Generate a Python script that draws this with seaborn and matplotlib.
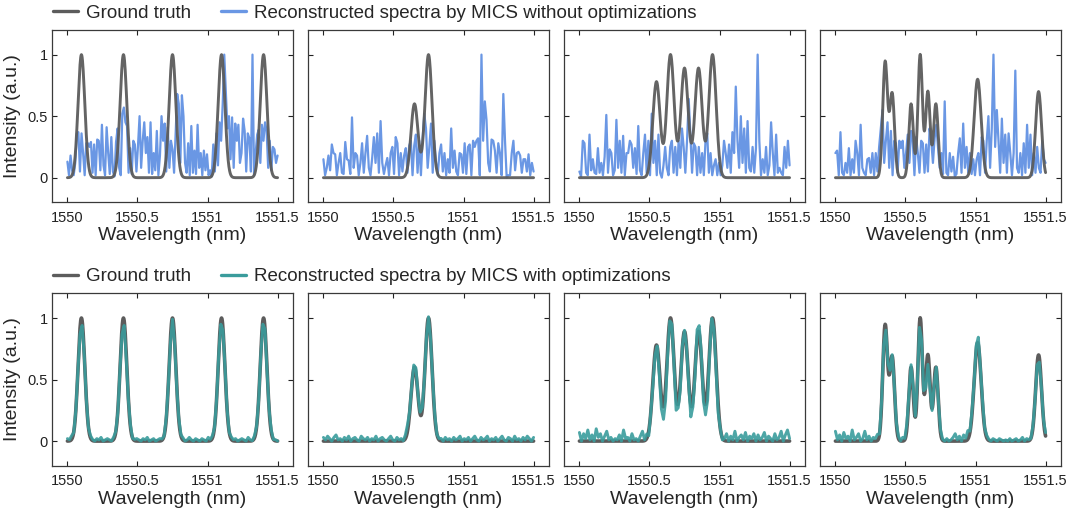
import numpy as np
import matplotlib
matplotlib.use("Agg")
from matplotlib import pyplot as plt
from matplotlib.lines import Line2D
import seaborn as sns

# ground-truth peaks per panel (centre nm, height, width nm)
gt_centers = [
    [1550.10, 1550.40, 1550.75, 1551.10, 1551.40],
    [1550.65, 1550.75],
    [1550.55, 1550.65, 1550.75, 1550.85, 1550.95],
    [1550.355, 1550.405, 1550.54, 1550.605, 1550.66, 1550.717, 1551.015, 1551.45],
]
gt_heights = [
    [1.0, 1.0, 1.0, 1.0, 1.0],
    [0.60, 1.0],
    [0.78, 1.0, 0.89, 0.89, 1.0],
    [0.94, 0.68, 0.60, 1.0, 0.70, 0.60, 0.80, 0.70],
]
gt_widths = [
    [0.024, 0.024, 0.024, 0.024, 0.024],
    [0.025, 0.025],
    [0.026, 0.026, 0.026, 0.026, 0.026],
    [0.017, 0.017, 0.016, 0.016, 0.016, 0.016, 0.025, 0.021],
]

# reconstructed peak heights with optimizations (same centres)
opt_heights = [
    [0.95, 0.94, 0.96, 0.97, 0.96],
    [0.61, 0.99],
    [0.77, 1.0, 0.90, 0.94, 1.0],
    [0.92, 0.67, 0.60, 0.97, 0.62, 0.60, 0.80, 0.66],
]
opt_widths = [
    [0.024, 0.024, 0.024, 0.024, 0.024],
    [0.025, 0.025],
    [0.023, 0.023, 0.023, 0.023, 0.023],
    [0.017, 0.017, 0.016, 0.016, 0.015, 0.016, 0.025, 0.021],
]

# reconstructed spectra without optimizations
raw1 = [0.13, 0.02, 0.18, 0.06, 0.02, 0.12,
        0.36, 0.37, 0.05, 0.36, 0.20, 0.02, 0.28,
        0.28, 0.25, 0.29, 0.04, 0.27, 0.02,
        0.31, 0.30, 0.06, 0.43, 0.10, 0.02,
        0.41, 0.20, 0.03, 0.33, 0.05, 0.01,
        0.29, 0.40, 0.08, 0.02, 0.52, 0.57,
        0.45, 0.42, 0.04, 0.24, 0.03, 0.30,
        0.27, 0.05, 0.26, 0.50, 0.08, 0.30,
        0.45, 0.20, 0.33, 0.04, 0.45, 0.03,
        0.20, 0.06, 0.38, 0.02, 0.18, 0.50,
        0.30, 0.44, 0.05, 0.41, 0.08, 0.30,
        0.23, 0.04, 0.35, 0.68, 0.60, 0.12,
        0.67, 0.50, 0.12, 0.04, 0.28, 0.02,
        0.42, 0.04, 0.22, 0.03, 0.43, 0.08,
        0.20, 0.02, 0.22, 0.06, 0.19, 0.02,
        0.06, 0.01, 0.27, 0.05, 0.36, 0.10,
        0.45, 0.30, 0.60, 1.00, 0.70, 0.40,
        0.50, 0.15, 0.49, 0.08, 0.44, 0.30,
        0.43, 0.12, 0.20, 0.48, 0.38, 0.05,
        0.36, 0.32, 0.05, 1.00, 0.02, 0.20,
        0.35, 0.39, 0.12, 0.43, 0.30, 0.45,
        0.38, 0.08, 0.30, 0.06, 0.25, 0.23, 0.12, 0.18]
raw2 = [0.15, 0.02, 0.08, 0.18, 0.06, 0.27,
        0.20, 0.19, 0.02, 0.12, 0.20, 0.04,
        0.03, 0.29, 0.15, 0.14, 0.03, 0.49,
        0.08, 0.20, 0.18, 0.02, 0.12, 0.28,
        0.04, 0.20, 0.34, 0.08, 0.02, 0.16,
        0.33, 0.12, 0.36, 0.04, 0.46, 0.12,
        0.03, 0.10, 0.16, 0.02, 0.20, 0.25,
        0.03, 0.33, 0.28, 0.02, 0.20, 0.05,
        0.18, 0.24, 0.04, 0.26, 0.30, 0.02,
        0.26, 0.35, 0.04, 0.30, 0.02, 0.32,
        0.52, 0.40, 0.08, 0.25, 0.44, 0.04,
        0.30, 0.12, 0.02, 0.20, 0.27, 0.05,
        0.20, 0.02, 0.15, 0.04, 0.40, 0.08,
        0.22, 0.05, 0.02, 0.20, 0.19, 0.04,
        0.28, 0.03, 0.25, 0.27, 0.02, 0.30,
        0.25, 0.30, 0.32, 0.02, 1.00, 0.30,
        0.62, 0.47, 0.12, 0.05, 0.31, 0.30,
        0.22, 0.04, 0.28, 0.20, 0.02, 0.68,
        0.30, 0.00, 0.02, 0.02, 0.20, 0.30,
        0.06, 0.20, 0.21, 0.18, 0.04, 0.15,
        0.15, 0.05, 0.19, 0.02, 0.12, 0.05]
raw3 = [0.05, 0.01, 0.30, 0.28, 0.04, 0.02,
        0.35, 0.06, 0.15, 0.04, 0.03, 0.24,
        0.04, 0.12, 0.02, 0.17, 0.51, 0.04,
        0.23, 0.20, 0.02, 0.06, 0.47, 0.08,
        0.30, 0.04, 0.34, 0.02, 0.20, 0.20,
        0.30, 0.27, 0.08, 0.24, 0.03, 0.42,
        0.06, 0.02, 0.20, 0.35, 0.04, 0.30,
        0.02, 0.52, 0.12, 0.30, 0.02, 0.35,
        0.04, 0.00, 0.10, 0.25, 0.08, 0.02,
        0.25, 0.30, 0.04, 0.25, 0.02, 0.30,
        0.08, 0.40, 0.25, 0.04, 0.30, 0.64,
        0.35, 0.04, 0.28, 0.25, 0.02, 0.25,
        0.04, 0.20, 0.02, 0.30, 0.36, 0.04,
        0.20, 0.02, 0.10, 0.15, 0.02, 0.12,
        0.02, 0.10, 0.30, 0.20, 0.08, 0.27,
        0.04, 0.37, 0.20, 0.74, 0.30, 0.08,
        0.50, 0.12, 0.40, 0.04, 0.46, 0.08,
        0.05, 0.25, 0.04, 0.24, 1.00, 0.30,
        0.02, 0.15, 0.04, 0.25, 0.02, 0.10,
        0.45, 0.20, 0.02, 0.35, 0.04, 0.08,
        0.04, 0.02, 0.25, 0.08, 0.30, 0.10]
raw4 = [0.20, 0.22, 0.02, 0.37, 0.04, 0.02,
        0.12, 0.04, 0.24, 0.02, 0.15, 0.04,
        0.30, 0.20, 0.02, 0.43, 0.08, 0.04,
        0.02, 0.15, 0.16, 0.04, 0.20, 0.02,
        0.20, 0.05, 0.25, 0.40, 0.55, 0.12,
        0.30, 0.45, 0.08, 0.38, 0.02, 0.30,
        0.28, 0.04, 0.30, 0.24, 0.30, 0.08,
        0.20, 0.35, 0.12, 0.38, 0.30, 0.02,
        0.33, 0.20, 0.04, 0.30, 0.28, 0.04,
        0.27, 0.05, 0.40, 0.30, 0.12, 0.32,
        0.43, 0.25, 0.08, 0.20, 0.03, 0.62,
        0.04, 0.02, 0.20, 0.05, 0.17, 0.01,
        0.03, 0.20, 0.32, 0.04, 0.44, 0.08,
        0.25, 0.04, 0.20, 0.03, 0.15, 0.02,
        0.15, 0.20, 0.02, 0.33, 0.30, 0.04,
        0.30, 0.50, 0.08, 0.40, 1.00, 0.25,
        0.55, 0.30, 0.04, 0.48, 0.12, 0.35,
        0.04, 0.36, 0.20, 0.02, 0.20, 0.87,
        0.08, 0.04, 0.20, 0.02, 0.28, 0.04,
        0.43, 0.08, 0.35, 0.02, 0.20, 0.04,
        0.25, 0.08, 0.04, 0.30, 0.15, 0.12]
raw_spectra = [raw1, raw2, raw3, raw4]

# residual baseline of the optimized reconstructions
base1 = [0.02, 0.01, 0.03, 0.00, 0.01, 0.02, 0.00, 0.01, 0.03, 0.01,
         0.00, 0.02, 0.01, 0.00, 0.02, 0.01, 0.03, 0.00, 0.01, 0.02,
         0.01, 0.00, 0.02, 0.01, 0.00, 0.03, 0.01, 0.02, 0.00, 0.01,
         0.02, 0.00, 0.01, 0.02, 0.01, 0.00, 0.02, 0.01, 0.03, 0.00,
         0.01, 0.02, 0.00, 0.01, 0.02, 0.01, 0.00, 0.02, 0.01, 0.00,
         0.03, 0.01, 0.00, 0.02, 0.01, 0.02, 0.00, 0.01, 0.03, 0.01,
         0.00, 0.02, 0.01, 0.00, 0.02, 0.01, 0.00, 0.03, 0.01, 0.02,
         0.00, 0.01, 0.02, 0.00, 0.01, 0.03, 0.01, 0.00, 0.02, 0.01,
         0.02, 0.00, 0.01, 0.02, 0.01, 0.00, 0.03, 0.01, 0.00, 0.02,
         0.01, 0.00, 0.02, 0.01, 0.03, 0.00, 0.01, 0.02, 0.00, 0.01, 0.00]
base2 = [0.03, 0.01, 0.04, 0.02, 0.00, 0.03, 0.05, 0.01, 0.02, 0.00,
         0.03, 0.01, 0.04, 0.00, 0.02, 0.03, 0.01, 0.00, 0.04, 0.02,
         0.01, 0.03, 0.00, 0.02, 0.01, 0.04, 0.00, 0.02, 0.03, 0.01,
         0.00, 0.02, 0.04, 0.01, 0.00, 0.03, 0.01, 0.02, 0.00, 0.03,
         0.05, 0.01, 0.00, 0.02, 0.03, 0.00, 0.01, 0.02, 0.00, 0.01,
         0.02, 0.00, 0.01, 0.02, 0.00, 0.01, 0.02, 0.00, 0.03, 0.01,
         0.02, 0.00, 0.03, 0.01, 0.02, 0.04, 0.00, 0.02, 0.01, 0.03,
         0.00, 0.02, 0.04, 0.01, 0.00, 0.03, 0.01, 0.02, 0.04, 0.00,
         0.02, 0.01, 0.03, 0.00, 0.02, 0.04, 0.01, 0.00, 0.03, 0.02,
         0.00, 0.04, 0.01, 0.02, 0.00, 0.03, 0.01, 0.04, 0.02, 0.00, 0.03]
base3 = [0.07, 0.00, 0.06, 0.02, 0.09, 0.01, 0.05, 0.00, 0.10, 0.03,
         0.06, 0.00, 0.04, 0.08, 0.01, 0.03, 0.00, 0.02, 0.01, 0.05,
         0.00, 0.09, 0.02, 0.03, 0.00, 0.06, 0.01, 0.02, 0.00, 0.04,
         0.08, 0.01, 0.05, 0.00, 0.07, 0.03, 0.00, 0.02, 0.01, 0.00,
         0.01, 0.00, 0.02, 0.00, 0.04, 0.06, 0.00, 0.08, 0.02, 0.05,
         0.00, 0.03, 0.06, 0.01, 0.04, 0.00, 0.05, 0.02, 0.07, 0.01,
         0.03, 0.00, 0.04, 0.02, 0.00, 0.03, 0.01, 0.05, 0.00, 0.02,
         0.06, 0.00, 0.04, 0.01, 0.08, 0.00, 0.03, 0.05, 0.01, 0.07,
         0.00, 0.04, 0.02, 0.06, 0.00, 0.05, 0.01, 0.03, 0.07, 0.00,
         0.04, 0.02, 0.00, 0.06, 0.01, 0.03, 0.08, 0.00, 0.05, 0.09, 0.02]
base4 = [0.08, 0.01, 0.05, 0.00, 0.07, 0.02, 0.04, 0.00, 0.09, 0.01,
         0.03, 0.06, 0.00, 0.02, 0.08, 0.01, 0.04, 0.00, 0.03, 0.02,
         0.05, 0.00, 0.02, 0.01, 0.00, 0.03, 0.01, 0.02, 0.00, 0.01,
         0.02, 0.00, 0.03, 0.01, 0.04, 0.00, 0.02, 0.05, 0.01, 0.03,
         0.00, 0.02, 0.04, 0.01, 0.00, 0.03, 0.02, 0.00, 0.01, 0.00,
         0.02, 0.01, 0.00, 0.02, 0.00, 0.01, 0.03, 0.06, 0.01, 0.04,
         0.00, 0.05, 0.02, 0.07, 0.01, 0.03, 0.00, 0.04, 0.06, 0.01,
         0.03, 0.00, 0.02, 0.01, 0.00, 0.02, 0.01, 0.00, 0.02, 0.01,
         0.00, 0.01, 0.00, 0.02, 0.00, 0.01, 0.02, 0.00, 0.01, 0.03,
         0.00, 0.02, 0.01, 0.00, 0.02, 0.01, 0.03, 0.00, 0.02, 0.01, 0.03]
baselines = [base1, base2, base3, base4]

xticks = [1550, 1550.5, 1551, 1551.5]
xticklabels = ["1550", "1550.5", "1551", "1551.5"]
yticks = [0, 0.5, 1]
yticklabels = ["0", "0.5", "1"]

GRAY = "#5c5c5c"
BLUE = "#6a97e4"
TEAL = "#3a9c9c"


def peaks(x, centers, heights, widths):
    y = np.zeros_like(x)
    for c, h, w in zip(centers, heights, widths):
        y += h * np.exp(-(x - c) ** 2 / (2 * w ** 2))
    return y


sns.set_theme(style="ticks")
plt.rcParams["font.family"] = ["Liberation Sans", "DejaVu Sans"]

fig = plt.figure(figsize=(10.8, 5.23), dpi=100)
W, H = 1080, 523
lefts = [52, 308, 564, 820]
row_bottoms = [1 - 202.3 / H, 1 - 465.7 / H]
ax_w, ax_h = 241 / W, 172.3 / H

x_gt = np.linspace(1550, 1551.5, 601)

for row in range(2):
    for col in range(4):
        ax = fig.add_axes([lefts[col] / W, row_bottoms[row], ax_w, ax_h])
        gt = peaks(x_gt, gt_centers[col], gt_heights[col], gt_widths[col])
        if row == 0:
            raw = np.array(raw_spectra[col])
            x_raw = np.linspace(1550, 1551.5, len(raw))
            sns.lineplot(x=x_raw, y=raw, ax=ax, color=BLUE, linewidth=1.6,
                         estimator=None, sort=False)
            sns.lineplot(x=x_gt, y=gt, ax=ax, color=GRAY, linewidth=2.1,
                         alpha=0.95, estimator=None, sort=False)
        else:
            base = np.array(baselines[col])
            x_rec = np.linspace(1550, 1551.5, len(base))
            rec = peaks(x_rec, gt_centers[col], opt_heights[col], opt_widths[col]) + base
            sns.lineplot(x=x_gt, y=gt, ax=ax, color=GRAY, linewidth=2.6,
                         estimator=None, sort=False)
            sns.lineplot(x=x_rec, y=rec, ax=ax, color=TEAL, linewidth=2.1,
                         alpha=0.9, estimator=None, sort=False)

        ax.set_xlim(1549.89, 1551.61)
        ax.set_ylim(-0.2, 1.2)
        ax.set_xticks(xticks)
        ax.set_xticklabels(xticklabels)
        ax.set_yticks(yticks)
        if col == 0:
            ax.set_yticklabels(yticklabels)
            ax.set_ylabel("Intensity (a.u.)", fontsize=14, labelpad=5)
        else:
            ax.set_yticklabels([])
            ax.set_ylabel("")
        ax.set_xlabel("Wavelength (nm)", fontsize=14, labelpad=2)
        ax.tick_params(axis="both", direction="in", top=True, right=True,
                       length=3.5, width=0.8, labelsize=10.5, colors="#222222")
        ax.tick_params(axis="x", pad=6)
        ax.tick_params(axis="y", pad=3)
        for sp in ax.spines.values():
            sp.set_visible(True)
            sp.set_color("#3a3a3a")
            sp.set_linewidth(0.9)

legend_rows = [
    (BLUE, "Reconstructed spectra by MICS without optimizations", 1 - 13 / H),
    (TEAL, "Reconstructed spectra by MICS with optimizations", 1 - 276.5 / H),
]
for color, label, y in legend_rows:
    handles = [Line2D([], [], color=GRAY, linewidth=2.4),
               Line2D([], [], color=color, linewidth=2.4)]
    fig.legend(handles, ["Ground truth", label], loc="center left",
               bbox_to_anchor=(53 / W, y), ncol=2, frameon=False,
               fontsize=13.5, handlelength=1.35, handletextpad=0.4,
               columnspacing=1.6, borderpad=0, borderaxespad=0)

fig.savefig("out.png", dpi=100)
